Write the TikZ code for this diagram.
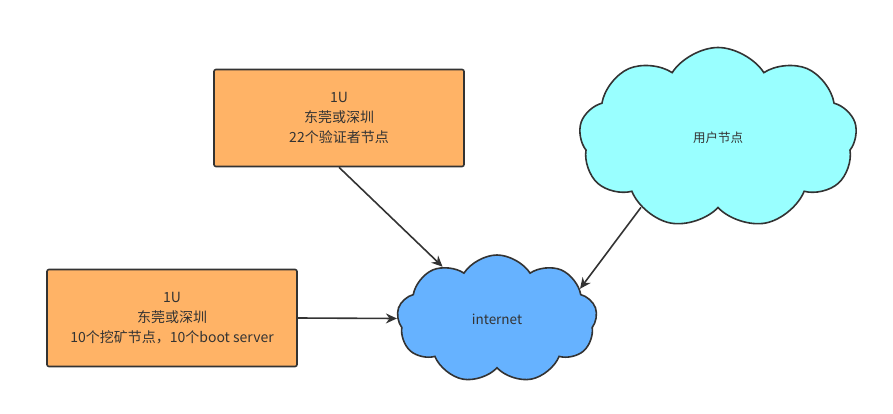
\documentclass[tikz,border=0pt]{standalone}
\usepackage{fontspec}
\setmainfont{Noto Sans CJK SC}
\usetikzlibrary{shapes.symbols,arrows.meta}
\definecolor{boxorange}{HTML}{FFB366}
\definecolor{netblue}{HTML}{66B2FF}
\definecolor{usercyan}{HTML}{99FFFF}
\definecolor{edgegray}{HTML}{333333}
\tikzset{
  hostbox/.style={draw=edgegray, fill=boxorange, rounded corners=2pt, line width=1.6pt,
    minimum width=250pt, minimum height=97pt, align=center, text=edgegray,
    font=\fontsize{14}{20}\selectfont},
  netcloud/.style={cloud, cloud puffs=9, cloud puff arc=115, draw=edgegray, line width=1.6pt,
    inner sep=0pt, text=edgegray},
  link/.style={draw=edgegray, line width=1.6pt, -{Stealth[length=11pt,width=10pt]}}
}
\begin{document}
\begin{tikzpicture}[x=1pt,y=-1pt]
  \useasboundingbox (0,0) rectangle (893,414);
  % hosts
  \node[hostbox] (verify) at (339,118) {1U\\东莞或深圳\\22个验证者节点};
  \node[hostbox] (mine) at (172,318) {1U\\东莞或深圳\\10个挖矿节点，10个boot server};
  % clouds
  \node[netcloud, fill=netblue, minimum width=200pt, minimum height=128pt,
    font=\fontsize{13.5}{16}\selectfont] (internet) at (497,319) {internet};
  \node[netcloud, fill=usercyan, minimum width=278pt, minimum height=181pt,
    font=\fontsize{12.5}{16}\selectfont] (user) at (718,138) {用户节点};

  % connectors
  \draw[link] (verify.south) -- (internet);
  \draw[link] (mine.east) -- (internet);
  \draw[link] (user.222) -- (internet.20);
\end{tikzpicture}
\end{document}
